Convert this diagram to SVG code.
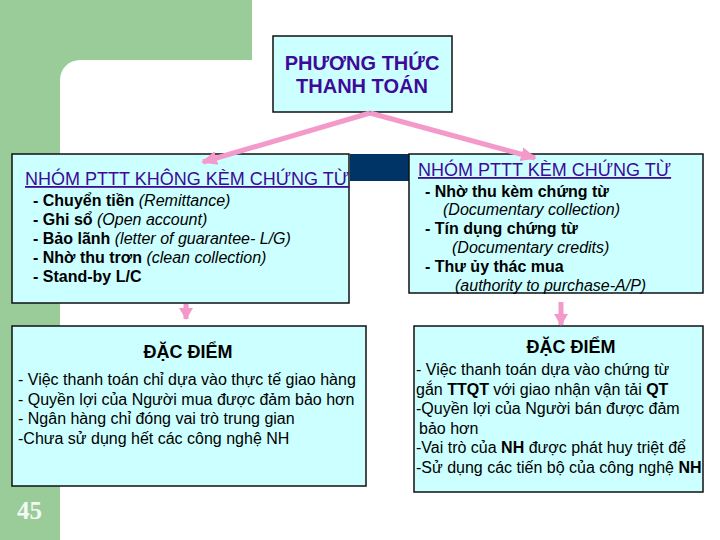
<svg xmlns="http://www.w3.org/2000/svg" width="720" height="540" viewBox="0 0 720 540">
<style>
.box{fill:#CCFFFF;stroke:#111;stroke-width:1.5}
.t{font-family:"Liberation Sans",Arial,sans-serif;fill:#000}
.title{font-family:"Liberation Sans",Arial,sans-serif;font-weight:bold;font-size:20px;fill:#3D0A99}
.hd{font-family:"Liberation Sans",Arial,sans-serif;font-size:18px;fill:#3D0A99;text-decoration:underline}
.li{font-size:16px}
.b{font-weight:bold}
.i{font-style:italic}
.arr{stroke:#F49ACB;stroke-width:5;fill:none}
</style>
<defs>
<marker id="ah" markerUnits="userSpaceOnUse" markerWidth="16" markerHeight="16" viewBox="0 0 16 16" refX="14" refY="8" orient="auto">
<path d="M0,1 L16,8 L0,15 Z" fill="#F49ACB"/>
</marker>
<marker id="ahs" markerUnits="userSpaceOnUse" markerWidth="12" markerHeight="16" viewBox="0 0 12 16" refX="11" refY="8" orient="auto">
<path d="M0,1 L12,8 L0,15 Z" fill="#F49ACB"/>
</marker>
</defs>
<rect width="720" height="540" fill="#fff"/>
<path d="M0,0 H252 V60 H80 A20,20 0 0 0 60,80 V540 H0 Z" fill="#99CC99"/>
<text x="17" y="519" font-family="Liberation Serif,serif" font-weight="bold" font-size="25" fill="#F4FAF4">45</text>

<g id="title">
<rect class="box" x="273" y="36" width="179" height="76"/>
<text class="title" x="362" y="70" text-anchor="middle">PHƯƠNG THỨC</text>
<text class="title" x="362" y="93" text-anchor="middle">THANH TOÁN</text>
</g>

<g id="left-group">
<rect class="box" x="12" y="154" width="337" height="149"/>
<text class="hd" x="25" y="185">NHÓM PTTT KHÔNG KÈM CHỨNG TỪ</text>
<text class="t li" x="33" y="206"><tspan class="b">- Chuyển tiền </tspan><tspan class="i">(Remittance)</tspan></text>
<text class="t li" x="33" y="225"><tspan class="b">- Ghi sổ </tspan><tspan class="i">(Open account)</tspan></text>
<text class="t li" x="33" y="244"><tspan class="b">- Bảo lãnh </tspan><tspan class="i">(letter of guarantee- L/G)</tspan></text>
<text class="t li" x="33" y="263"><tspan class="b">- Nhờ thu trơn </tspan><tspan class="i">(clean collection)</tspan></text>
<text class="t li b" x="33" y="282">- Stand-by L/C</text>
</g>

<rect id="bar" x="350" y="154" width="60" height="27" fill="#003366"/>

<g id="right-group">
<rect class="box" x="409" y="154" width="294" height="139"/>
<text class="hd" x="418" y="176">NHÓM PTTT KÈM CHỨNG TỪ</text>
<text class="t li b" x="425" y="197">- Nhờ thu kèm chứng từ</text>
<text class="t li i" x="443" y="215">(Documentary collection)</text>
<text class="t li b" x="425" y="234">- Tín dụng chứng từ</text>
<text class="t li i" x="452" y="253">(Documentary credits)</text>
<text class="t li b" x="425" y="272">- Thư ủy thác mua</text>
<text class="t li i" x="455" y="291">(authority to purchase-A/P)</text>
</g>

<g id="left-features">
<rect class="box" x="12" y="326" width="354" height="160"/>
<text class="t b" x="188" y="358" font-size="18" text-anchor="middle">ĐẶC ĐIỂM</text>
<text class="t li" x="18" y="385">- Việc thanh toán chỉ dựa vào thực tế giao hàng</text>
<text class="t li" x="18" y="404.5">- Quyền lợi của Người mua được đảm bảo hơn</text>
<text class="t li" x="18" y="424">- Ngân hàng chỉ đóng vai trò trung gian</text>
<text class="t li" x="18" y="443.5">-Chưa sử dụng hết các công nghệ NH</text>
</g>

<g id="right-features">
<rect class="box" x="414" y="326" width="289" height="166"/>
<text class="t b" x="571" y="353" font-size="18" text-anchor="middle">ĐẶC ĐIỂM</text>
<text class="t li" x="416" y="375">- Việc thanh toán dựa vào chứng từ</text>
<text class="t li" x="416" y="394.5">gắn <tspan class="b">TTQT</tspan> với giao nhận vận tải <tspan class="b">QT</tspan></text>
<text class="t li" x="416" y="414">-Quyền lợi của Người bán được đảm</text>
<text class="t li" x="419" y="433.5">bảo hơn</text>
<text class="t li" x="416" y="453">-Vai trò của <tspan class="b">NH</tspan> được phát huy triệt để</text>
<text class="t li" x="416" y="472.5">-Sử dụng các tiến bộ của công nghệ <tspan class="b">NH</tspan></text>
</g>

<g id="connectors">
<line class="arr" x1="370" y1="113" x2="203" y2="162" marker-end="url(#ah)"/>
<line class="arr" x1="370" y1="113" x2="535" y2="158" marker-end="url(#ah)"/>
<line class="arr" x1="186" y1="304" x2="186" y2="319" marker-end="url(#ahs)"/>
<line class="arr" x1="561" y1="302" x2="561" y2="325" marker-end="url(#ahs)"/>
</g>
</svg>
